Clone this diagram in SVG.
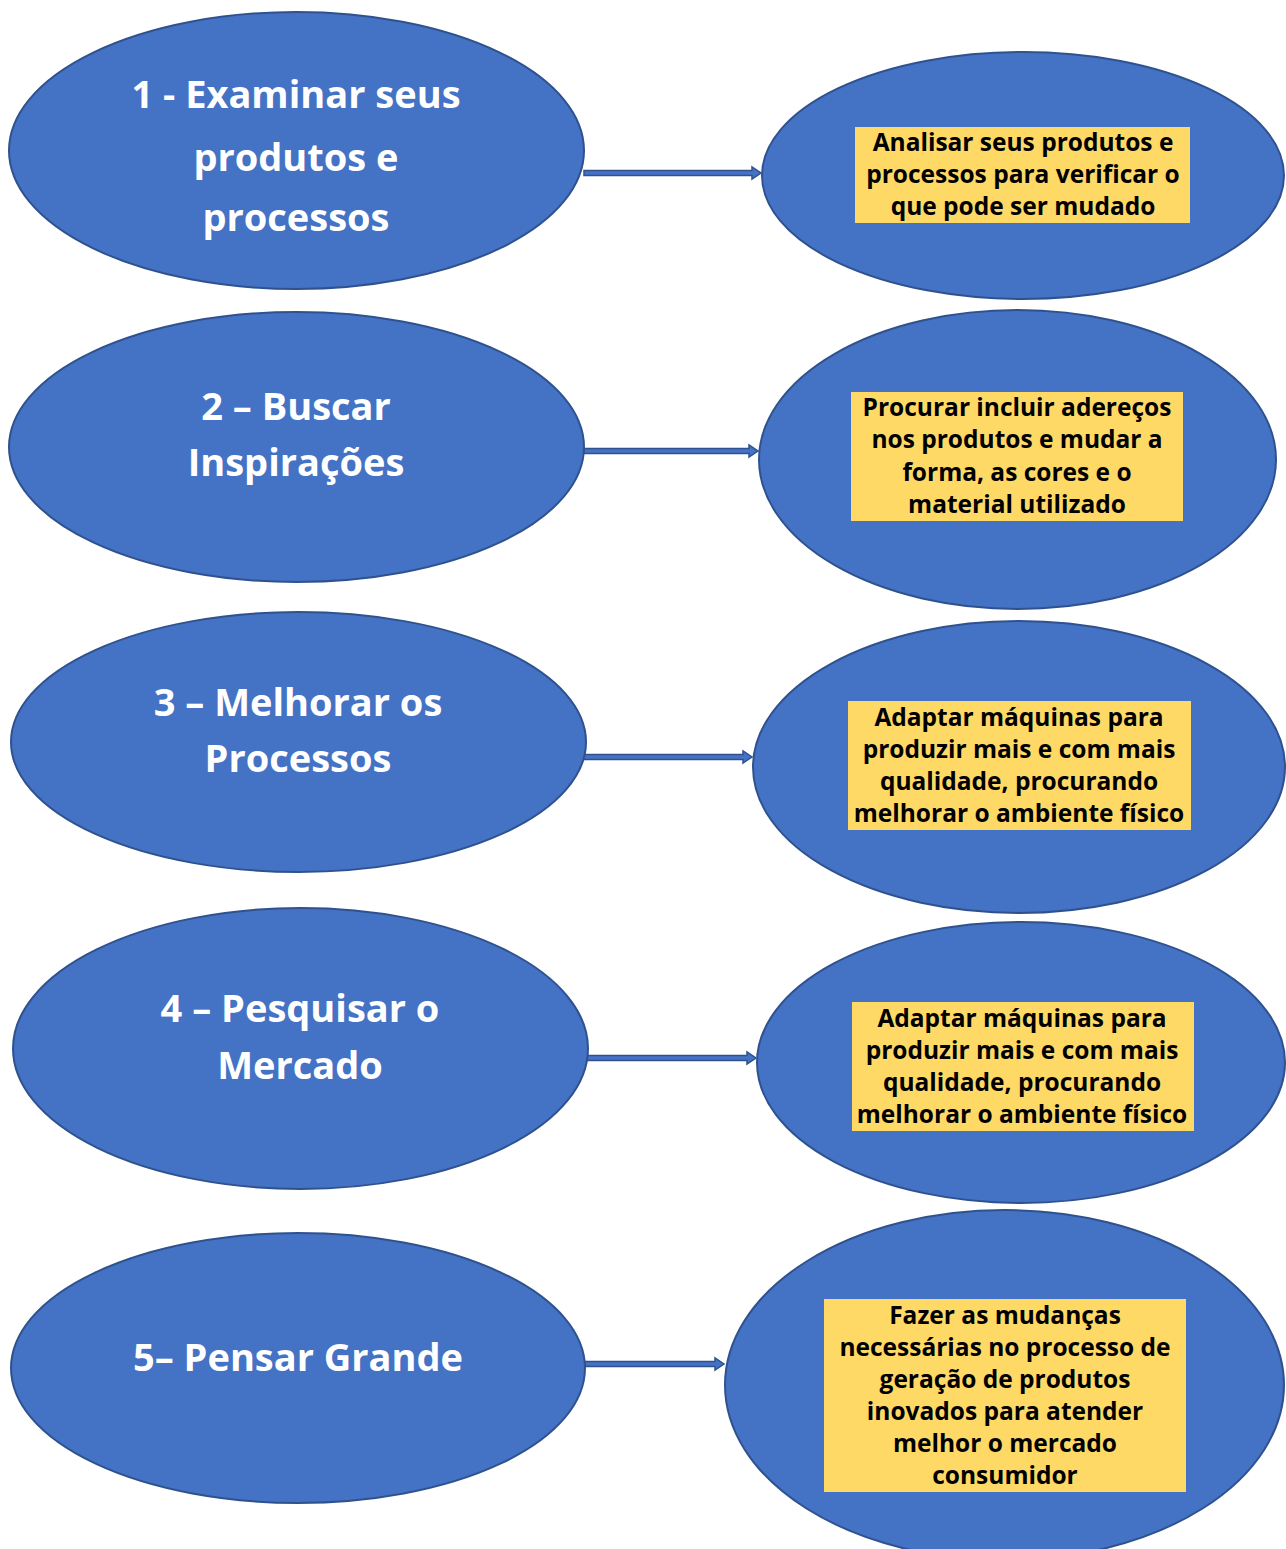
<svg xmlns="http://www.w3.org/2000/svg" width="1286" height="1549" viewBox="0 0 1286 1549">
<style>
.ell{fill:#4472C4;stroke:#2F528F;stroke-width:2}
.box{fill:#FFD966}
.lt{font-family:"Open Sans",Lato,"Liberation Sans",sans-serif;font-weight:bold;font-size:38px;fill:#fff;text-anchor:middle}
.rt{font-family:"Open Sans",Lato,"Liberation Sans",sans-serif;font-weight:bold;font-size:24.5px;fill:#000;text-anchor:middle}
.arr{fill:#4472C4;stroke:#2F528F;stroke-width:1.5}
</style>
<rect width="1286" height="1549" fill="#fff"/>
<g id="connectors">
<path class="arr" d="M584,170.5 H752 V167 L761,173 L752,179 V175.5 H584 Z"/>
<path class="arr" d="M584,448.5 H749 V445 L758,451 L749,457 V453.5 H584 Z"/>
<path class="arr" d="M578,754.5 H743 V751 L752,757 L743,763 V759.5 H578 Z"/>
<path class="arr" d="M572,1055.5 H747 V1052 L756,1058 L747,1064 V1060.5 H572 Z"/>
<path class="arr" d="M585,1361.5 H715 V1358 L724,1364 L715,1370 V1366.5 H585 Z"/>
</g>
<g id="n1">
<ellipse class="ell" cx="296.5" cy="150.5" rx="287.5" ry="138.5"/>
<text class="lt"><tspan x="296" y="108">1 - Examinar seus</tspan><tspan x="296" y="171">produtos e</tspan><tspan x="296" y="231">processos</tspan></text>
</g>
<g id="n2">
<ellipse class="ell" cx="296.5" cy="447" rx="287.5" ry="135"/>
<text class="lt"><tspan x="296" y="420">2 – Buscar</tspan><tspan x="296" y="476">Inspirações</tspan></text>
</g>
<g id="n3">
<ellipse class="ell" cx="298.5" cy="742" rx="287.5" ry="130"/>
<text class="lt"><tspan x="298" y="716">3 – Melhorar os</tspan><tspan x="298" y="772">Processos</tspan></text>
</g>
<g id="n4">
<ellipse class="ell" cx="300.5" cy="1048.5" rx="287.5" ry="140.5"/>
<text class="lt"><tspan x="300" y="1022">4 – Pesquisar o</tspan><tspan x="300" y="1079">Mercado</tspan></text>
</g>
<g id="n5">
<ellipse class="ell" cx="298" cy="1368" rx="287" ry="135"/>
<text class="lt"><tspan x="298" y="1371">5– Pensar Grande</tspan></text>
</g>
<g id="r1">
<ellipse class="ell" cx="1023" cy="175.5" rx="261" ry="123.5"/>
<rect class="box" x="855" y="127" width="335" height="96"/>
<text class="rt"><tspan x="1023" y="151">Analisar seus produtos e</tspan><tspan x="1023" y="183">processos para verificar o</tspan><tspan x="1023" y="215">que pode ser mudado</tspan></text>
</g>
<g id="r2">
<ellipse class="ell" cx="1017.5" cy="459.5" rx="258.5" ry="149.5"/>
<rect class="box" x="851" y="392" width="332" height="129"/>
<text class="rt"><tspan x="1017" y="416">Procurar incluir adereços</tspan><tspan x="1017" y="448">nos produtos e mudar a</tspan><tspan x="1017" y="481">forma, as cores e o</tspan><tspan x="1017" y="513">material utilizado</tspan></text>
</g>
<g id="r3">
<ellipse class="ell" cx="1019" cy="767" rx="266" ry="146"/>
<rect class="box" x="848" y="701" width="343" height="129"/>
<text class="rt"><tspan x="1019" y="726">Adaptar máquinas para</tspan><tspan x="1019" y="758">produzir mais e com mais</tspan><tspan x="1019" y="790">qualidade, procurando</tspan><tspan x="1019" y="822">melhorar o ambiente físico</tspan></text>
</g>
<g id="r4">
<ellipse class="ell" cx="1021" cy="1062.5" rx="264" ry="140.5"/>
<rect class="box" x="852" y="1002" width="342" height="129"/>
<text class="rt"><tspan x="1022" y="1027">Adaptar máquinas para</tspan><tspan x="1022" y="1059">produzir mais e com mais</tspan><tspan x="1022" y="1091">qualidade, procurando</tspan><tspan x="1022" y="1123">melhorar o ambiente físico</tspan></text>
</g>
<g id="r5">
<ellipse class="ell" cx="1004.5" cy="1385" rx="279.5" ry="175"/>
<rect class="box" x="824" y="1299" width="362" height="193"/>
<text class="rt"><tspan x="1005" y="1324">Fazer as mudanças</tspan><tspan x="1005" y="1356">necessárias no processo de</tspan><tspan x="1005" y="1388">geração de produtos</tspan><tspan x="1005" y="1420">inovados para atender</tspan><tspan x="1005" y="1452">melhor o mercado</tspan><tspan x="1005" y="1484">consumidor</tspan></text>
</g>
</svg>
